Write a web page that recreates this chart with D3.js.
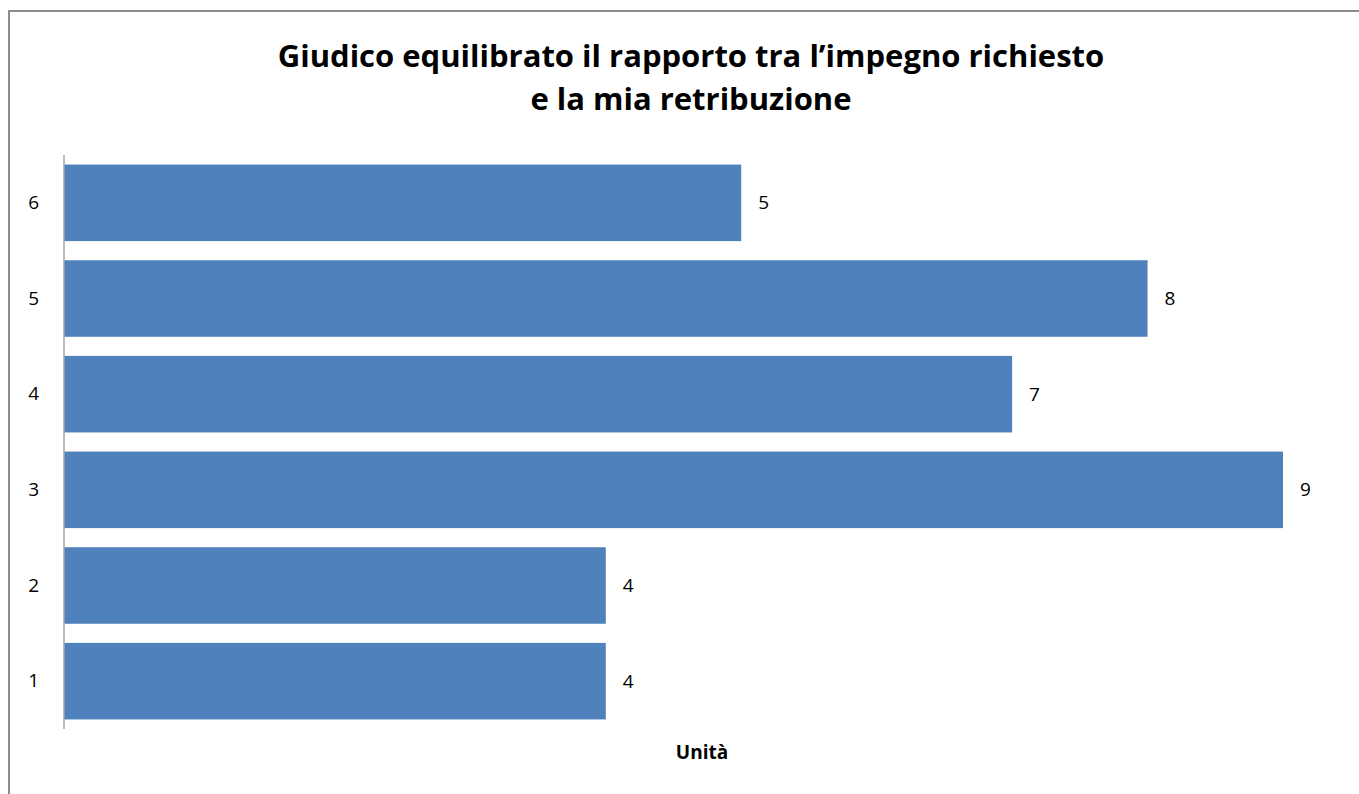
<!DOCTYPE html>
<html><head><meta charset="utf-8">
<script src="https://cdn.jsdelivr.net/npm/d3@7"></script>
<style>body{margin:0;background:#fff;}svg{display:block;font-family:"Open Sans","Noto Sans",sans-serif;}</style>
</head><body>
<svg id="c" width="1359" height="794"></svg>
<script>
const categories = ["1","2","3","4","5","6"];
const values = [4,4,9,7,8,5];
const titleLines = ["Giudico equilibrato il rapporto tra l\u2019impegno richiesto","e la mia retribuzione"];
const axisTitle = "Unità";

const svg = d3.select("#c");
svg.append("rect").attr("x",9).attr("y",11).attr("width",1400).attr("height",900)
  .attr("fill","#fff").attr("stroke","#8c8c8c").attr("stroke-width",2);

const x = d3.scaleLinear().domain([0,9]).range([64,1283]);
const y = d3.scaleBand().domain(categories.slice().reverse()).range([155,729]).paddingInner(0.2).paddingOuter(0.1);

svg.selectAll("rect.bar").data(categories).join("rect").attr("class","bar")
  .attr("x",x(0)).attr("y",d=>y(d)).attr("height",y.bandwidth())
  .attr("width",(d,i)=>x(values[i])-x(0)).attr("fill","#4f81bd");

svg.selectAll("text.val").data(categories).join("text").attr("class","val")
  .attr("x",(d,i)=>x(values[i])+17).attr("y",d=>y(d)+y.bandwidth()/2)
  .attr("dy","0.35em").attr("font-size",19).attr("fill","#000").text((d,i)=>values[i]);

const yAxis = d3.axisLeft(y).tickSize(0).tickPadding(25);
const g = svg.append("g").attr("transform","translate(64,0)").call(yAxis);
g.select(".domain").attr("stroke","#a6a6a6").attr("stroke-width",1.5).attr("d","M0,155V729");
g.selectAll("text").attr("font-size",19).attr("fill","#000").attr("font-family","'Open Sans','Noto Sans',sans-serif");

svg.append("text").attr("x",702).attr("y",759).attr("text-anchor","middle")
  .attr("font-weight","bold").attr("font-size",19).text(axisTitle);

const tl = svg.selectAll("text.title").data(titleLines).join("text").attr("class","title")
  .attr("x",691).attr("y",(d,i)=>67+i*43).attr("text-anchor","middle")
  .attr("font-weight","bold").attr("font-size",28).text(d=>d);
// fit the first line to the reference width
const w = tl.node().getComputedTextLength();
const fs = 28*827/w;
tl.attr("font-size",fs);
</script>
</body></html>
